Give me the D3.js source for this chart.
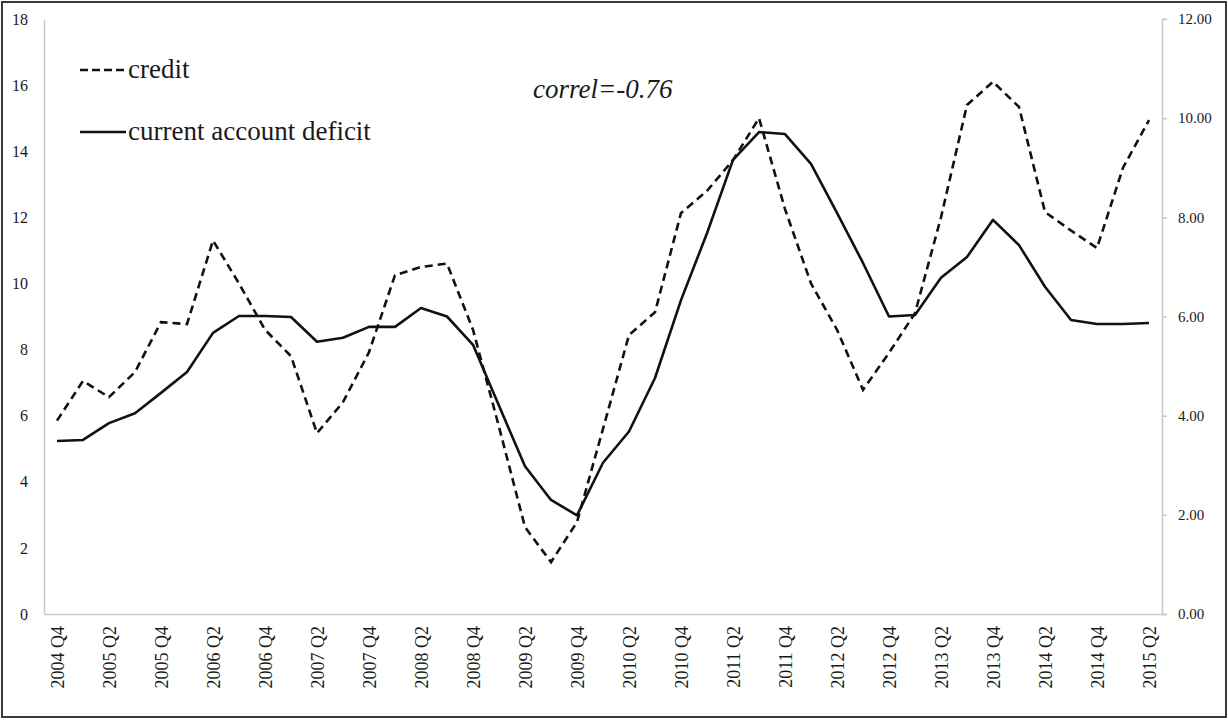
<!DOCTYPE html>
<html>
<head>
<meta charset="utf-8">
<script src="https://cdn.jsdelivr.net/npm/d3@7/dist/d3.min.js"></script>
<style>
  body { margin: 0; background: #fff; }
  svg text { font-family: "Liberation Serif", "Times New Roman", serif; fill: #1a1a1a; }
</style>
</head>
<body>
<div id="chart"></div>
<script>
// quarters, 2004 Q4 .. 2015 Q2
var quarters = [
  "2004 Q4",
  "2005 Q1", "2005 Q2", "2005 Q3", "2005 Q4",
  "2006 Q1", "2006 Q2", "2006 Q3", "2006 Q4",
  "2007 Q1", "2007 Q2", "2007 Q3", "2007 Q4",
  "2008 Q1", "2008 Q2", "2008 Q3", "2008 Q4",
  "2009 Q1", "2009 Q2", "2009 Q3", "2009 Q4",
  "2010 Q1", "2010 Q2", "2010 Q3", "2010 Q4",
  "2011 Q1", "2011 Q2", "2011 Q3", "2011 Q4",
  "2012 Q1", "2012 Q2", "2012 Q3", "2012 Q4",
  "2013 Q1", "2013 Q2", "2013 Q3", "2013 Q4",
  "2014 Q1", "2014 Q2", "2014 Q3", "2014 Q4",
  "2015 Q1", "2015 Q2"
];

// credit growth (left axis)
var credit = [
  5.85, 7.05, 6.56, 7.32, 8.83, 8.77, 11.3, 10.0, 8.6, 7.8,
  5.47, 6.41, 7.92, 10.25, 10.5, 10.6, 8.6, 5.66, 2.63, 1.57,
  2.78, 5.6, 8.44, 9.13, 12.13, 12.8, 13.73, 15.0, 12.25, 10.0,
  8.6, 6.78, 7.9, 9.1, 12.0, 15.4, 16.1, 15.34, 12.16, 11.6,
  11.07, 13.5, 14.94
];

// current account deficit (right axis)
var cad = [
  3.49, 3.51, 3.85, 4.05, 4.46, 4.88, 5.67, 6.01, 6.01, 5.99,
  5.49, 5.57, 5.79, 5.79, 6.17, 6.0, 5.43, 4.2, 2.98, 2.3,
  1.99, 3.05, 3.68, 4.76, 6.33, 7.68, 9.16, 9.72, 9.68, 9.08,
  8.09, 7.08, 6.0, 6.03, 6.78, 7.2, 7.95, 7.44, 6.6, 5.93,
  5.85, 5.85, 5.87
];

var leftTicks = [0, 2, 4, 6, 8, 10, 12, 14, 16, 18];
var rightTicks = [0, 2, 4, 6, 8, 10, 12];
var xTickLabels = quarters.filter(function(q, i) { return i % 2 == 0; });

var W = 1228, H = 720;
var pLeft = 44, pRight = 1162, pTop = 19, pBottom = 614;

var svg = d3.select("#chart").append("svg")
            .attr("width", W)
            .attr("height", H);

// outer frame
svg.append("rect")
   .attr("x", 2).attr("y", 2)
   .attr("width", W - 4).attr("height", H - 5)
   .attr("fill", "#fff")
   .attr("stroke", "#3a3a3a")
   .attr("stroke-width", 2);

var x = d3.scalePoint()
          .domain(quarters)
          .range([pLeft, pRight])
          .padding(0.5);

var yL = d3.scaleLinear().domain([0, 18]).range([pBottom, pTop]);
var yR = d3.scaleLinear().domain([0, 12]).range([pBottom, pTop]);

// left axis
var leftAxis = d3.axisLeft(yL).tickValues(leftTicks).tickSize(0).tickSizeOuter(0).tickPadding(16);
var gl = svg.append("g")
            .attr("transform", "translate(" + pLeft + ",0)")
            .call(leftAxis);
gl.select(".domain").attr("stroke", "#c8c8c8").attr("stroke-width", 1.5);
gl.selectAll("text").style("font-size", "16px").attr("fill", "#1a1a1a");

// right axis
var rightAxis = d3.axisRight(yR).tickValues(rightTicks).tickSize(5).tickSizeOuter(5).tickPadding(11)
                  .tickFormat(d3.format(".2f"));
var gr = svg.append("g")
            .attr("transform", "translate(" + pRight + ",0)")
            .call(rightAxis);
gr.select(".domain").attr("stroke", "#c8c8c8").attr("stroke-width", 1.5);
gr.selectAll(".tick line").attr("stroke", "#c8c8c8").attr("stroke-width", 1.5);
gr.selectAll("text").style("font-size", "15px").attr("fill", "#1a1a1a");

// bottom axis
var bottomAxis = d3.axisBottom(x).tickValues(xTickLabels).tickSize(0).tickSizeOuter(0);
var gb = svg.append("g")
            .attr("transform", "translate(0," + pBottom + ")")
            .call(bottomAxis);
gb.select(".domain").attr("stroke", "#c8c8c8").attr("stroke-width", 1.5);
gb.selectAll("text")
  .style("font-size", "18px")
  .attr("fill", "#1a1a1a")
  .attr("transform", "rotate(-90)")
  .attr("x", -12)
  .attr("y", 0)
  .attr("dy", "0.35em")
  .attr("text-anchor", "end");

// lines
var creditLine = d3.line()
                   .x(function(d, i) { return x(quarters[i]); })
                   .y(function(d) { return yL(d); });

var cadLine = d3.line()
                .x(function(d, i) { return x(quarters[i]); })
                .y(function(d) { return yR(d); });

svg.append("path")
   .datum(credit)
   .attr("d", creditLine)
   .attr("fill", "none")
   .attr("stroke", "#111")
   .attr("stroke-width", 2.6)
   .attr("stroke-dasharray", "8,5");

svg.append("path")
   .datum(cad)
   .attr("d", cadLine)
   .attr("fill", "none")
   .attr("stroke", "#111")
   .attr("stroke-width", 2.6)
   .attr("stroke-linejoin", "round");

// legend
var legend = [
  { name: "credit", dash: "8,4", y: 70 },
  { name: "current account deficit", dash: null, y: 132 }
];

legend.forEach(function(l) {
  svg.append("line")
     .attr("x1", 80).attr("x2", 126)
     .attr("y1", l.y).attr("y2", l.y)
     .attr("stroke", "#111")
     .attr("stroke-width", 2.6)
     .attr("stroke-dasharray", l.dash);
  svg.append("text")
     .attr("x", 128)
     .attr("y", l.y + 8)
     .style("font-size", "27px")
     .text(l.name);
});

// correlation note
svg.append("text")
   .attr("x", 533)
   .attr("y", 98)
   .style("font-size", "27px")
   .style("font-style", "italic")
   .text("correl=-0.76");
</script>
</body>
</html>
